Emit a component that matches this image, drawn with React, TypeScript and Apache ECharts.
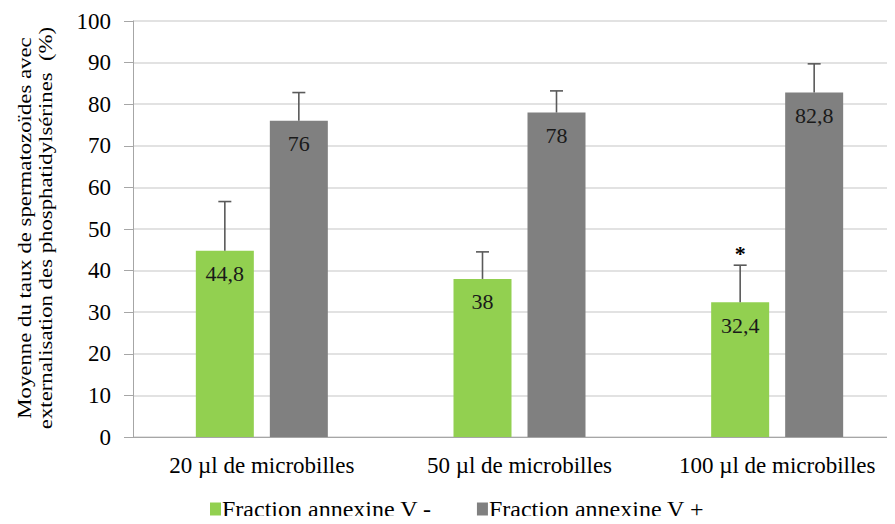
import React, { useEffect, useRef } from "react";
import * as echarts from "echarts";

const categories = ["20 µl de microbilles", "50 µl de microbilles", "100 µl de microbilles"];
const seriesNames = ["Fraction annexine V -", "Fraction annexine V +"];
const annexinNeg = [44.8, 38, 32.4];
const annexinPos = [76, 78, 82.8];
const errNeg = [11.8, 6.5, 8.9];
const errPos = [6.8, 5.2, 6.9];
const significanceNeg = ["", "", "*"];
const yAxisTitle = [
  "Moyenne du taux de spermatozoïdes avec",
  "externalisation des phosphatidylsérines  (%)",
];

const FONT = '"Liberation Serif"';
const GREEN = "#92D050";
const GREY = "#808080";
const BAR_W = 58;
const BAR_GAP = 16;

function errorSeries(values: number[], errs: number[], offset: number, marks: string[]) {
  return {
    type: "custom",
    z: 5,
    silent: true,
    data: values.map((v, i) => [i, v, errs[i]]),
    encode: { x: 0, y: 1 },
    renderItem: (params: any, api: any) => {
      const i = api.value(0);
      const v = api.value(1);
      const e = api.value(2);
      const base = api.coord([i, v]);
      const top = api.coord([i, v + e]);
      const x = base[0] + offset;
      const style = { stroke: "#5a5a5a", lineWidth: 1.6 };
      const children: any[] = [
        { type: "line", shape: { x1: x, y1: base[1], x2: x, y2: top[1] }, style },
        { type: "line", shape: { x1: x - 6.5, y1: top[1], x2: x + 6.5, y2: top[1] }, style },
      ];
      const m = marks[params.dataIndex];
      if (m) {
        children.push({
          type: "text",
          x,
          y: top[1] - 12,
          style: {
            text: m,
            font: `bold 22px ${FONT}`,
            fill: "#000",
            align: "center",
            verticalAlign: "middle",
          },
        });
      }
      return { type: "group", children };
    },
  };
}

export default function App() {
  const ref = useRef<HTMLDivElement>(null);
  useEffect(() => {
    if (!ref.current) return;
    const chart = echarts.init(ref.current, null, { renderer: "svg" });
    const off = (BAR_W + BAR_GAP) / 2;
    const labelFmt = (p: any) => String(p.value).replace(".", ",");
    const barLabel = {
      show: true,
      position: "insideTop",
      distance: 12,
      formatter: labelFmt,
      fontFamily: FONT,
      fontSize: 22,
      color: "#1a1a1a",
    };
    chart.setOption({
      animation: false,
      textStyle: { fontFamily: FONT },
      grid: { left: 133, right: 0, top: 21, bottom: 87 },
      legend: {
        top: 497,
        left: 210,
        padding: 0,
        icon: "rect",
        itemWidth: 11,
        itemHeight: 13,
        itemGap: 45,
        textStyle: { fontFamily: FONT, fontSize: 24, color: "#000", padding: [0, 0, 0, -4] },
        data: seriesNames,
      },
      xAxis: {
        type: "category",
        data: categories,
        axisLine: { lineStyle: { color: "#a6a6a6", width: 1 } },
        axisTick: { show: false },
        axisLabel: { fontFamily: FONT, fontSize: 23, color: "#000", margin: 17, interval: 0 },
      },
      yAxis: {
        type: "value",
        min: 0,
        max: 100,
        interval: 10,
        axisLine: { show: true, lineStyle: { color: "#a6a6a6", width: 1 } },
        axisTick: { show: true, length: 9, lineStyle: { color: "#a6a6a6" } },
        axisLabel: { fontFamily: FONT, fontSize: 23, color: "#000", margin: 22 },
        splitLine: { lineStyle: { color: "#d9d9d9", width: 1.5 } },
      },
      graphic: yAxisTitle.map((t, k) => ({
        type: "text",
        x: 25 + k * 21,
        y: 228,
        rotation: Math.PI / 2,
        scaleX: 1.2,
        style: {
          text: t,
          font: `19px ${FONT}`,
          fill: "#000",
          align: "center",
          verticalAlign: "middle",
        },
      })),
      series: [
        {
          name: seriesNames[0],
          type: "bar",
          data: annexinNeg,
          barWidth: BAR_W,
          barGap: `${(BAR_GAP / BAR_W) * 100}%`,
          itemStyle: { color: GREEN },
          label: barLabel,
        },
        {
          name: seriesNames[1],
          type: "bar",
          data: annexinPos,
          barWidth: BAR_W,
          barGap: `${(BAR_GAP / BAR_W) * 100}%`,
          itemStyle: { color: GREY },
          label: barLabel,
        },
        errorSeries(annexinNeg, errNeg, -off, significanceNeg),
        errorSeries(annexinPos, errPos, off, ["", "", ""]),
      ],
    });
    return () => chart.dispose();
  }, []);
  return (
    <div style={{ width: 895, height: 524, margin: -8, overflow: "hidden" }}>
      <div ref={ref} style={{ width: 906, height: 524 }} />
    </div>
  );
}
